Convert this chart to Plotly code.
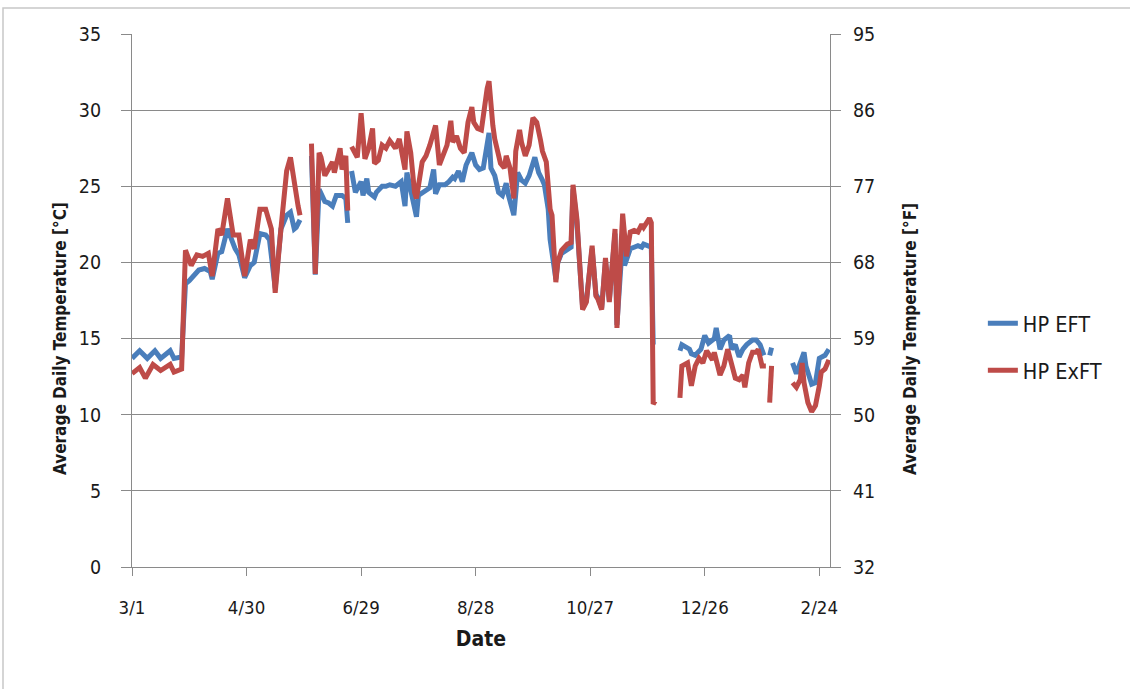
import pandas as pd
import plotly.graph_objects as go

START = "2010-03-01"

# Day offsets from 3/1 and daily average temperatures (°C); None = gap in data
eft_day = [0, 4, 8, 12, 15, 20, 22, 26, 28, 30, 35, 38, 41, 42, 45, 47, 50, 54, 56, 59,
           62, 64, 67, 70, 72, 75, 78, 81, 83, 85, 86, 88, 90,
           94, 96, 98, 101, 103, 105, 107, 110, 112, 113, 114,
           115, 117, 120, 121, 123, 124, 127, 128, 131, 133, 135, 138, 141, 143, 144, 146, 149, 150,
           154, 156, 158, 159, 161, 164, 166, 168, 169, 171, 173, 175, 178, 180, 182, 184, 187, 188,
           190, 192, 194, 196, 197, 199, 200, 202, 204, 206, 208, 211, 213, 215, 216, 218, 219,
           222, 223, 225, 228, 230, 231, 233, 235, 236, 238, 241, 243, 244, 246, 248, 250, 253,
           254, 257, 258, 261, 263, 265, 267, 268, 270, 271, 272, 273, 276,
           287, 288, 292, 293, 295, 298, 300, 302, 305, 306, 308, 310, 313, 314, 316, 318, 320,
           322, 325, 327, 329, 331, 333, 334, 335, 340,
           346, 348, 352, 353, 356, 358, 360, 363, 365]
eft_c = [13.7, 14.2, 13.7, 14.2, 13.7, 14.2, 13.7, 13.8, 18.6, 18.8, 19.5, 19.6, 19.4, 18.9, 20.6, 20.7, 22.2, 20.9, 20.5, 19.0,
         19.8, 20.0, 21.9, 21.8, 21.5, 18.3, 22.2, 23.1, 23.3, 22.2, 22.3, 22.8, None,
         27.0, 19.2, 24.8, 24.0, 23.9, 23.7, 24.4, 24.4, 24.2, 22.6, None,
         26.0, 24.6, 25.3, 24.4, 25.5, 24.6, 24.3, 24.6, 25.0, 25.0, 25.1, 25.0, 25.3, 23.7, 25.9, 24.6, 23.0, 24.4,
         24.8, 24.9, 26.1, 24.5, 25.1, 25.1, 25.3, 25.6, 25.5, 26.0, 25.3, 26.4, 27.2, 26.4, 26.1, 26.2, 28.5, 26.2,
         25.7, 24.6, 24.4, 25.2, 24.5, 23.5, 23.1, 25.9, 25.4, 25.2, 25.7, 26.9, 25.9, 25.4, 25.1, 23.5, 21.5,
         18.9, 20.0, 20.6, 20.8, 21.0, 24.8, 22.7, 18.9, 17.1, 17.5, 20.9, 17.9, 17.7, 17.0, 20.1, 17.5, 21.9,
         15.9, 21.5, 19.8, 20.9, 21.0, 21.1, 21.0, 21.2, 21.1, 21.0, 21.0, 14.6, None,
         14.2, 14.6, 14.3, 14.0, 13.9, 14.3, 15.2, 14.7, 15.0, 15.7, 14.3, 14.9, 15.2, 14.3, 14.6, 13.8, 14.3,
         14.6, 14.9, 14.9, 14.6, 13.9, None, 13.9, 14.4, None,
         13.4, 12.7, 14.1, 13.2, 12.0, 12.1, 13.7, 13.9, 14.3]

exft_day = [0, 4, 7, 11, 15, 20, 22, 26, 28, 31, 34, 37, 40, 42, 45, 47, 50, 53, 56, 59,
            62, 64, 67, 70, 73, 75, 78, 81, 83, 85, 87, 88, 90,
            94, 96, 98, 99, 101, 103, 105, 106, 108, 109, 110, 112, 113, 114,
            115, 118, 120, 122, 124, 126, 127, 129, 131, 133, 135, 138, 140, 141, 143, 144, 146, 148,
            149, 152, 154, 156, 159, 161, 163, 165, 167, 168, 170, 172, 174, 176, 178, 179, 181, 183,
            186, 187, 189, 190, 193, 195, 196, 198, 200, 201, 203, 204, 206, 208, 210, 212, 214, 215,
            217, 219, 220, 222, 223, 225, 228, 230, 231, 233, 235, 236, 238, 241, 243, 244, 246, 248,
            250, 253, 254, 257, 259, 261, 263, 265, 267, 268, 270, 271, 272, 273, 274, 276,
            287, 288, 291, 293, 295, 297, 299, 301, 304, 305, 308, 310, 312, 314, 316, 318, 320, 321,
            323, 325, 327, 328, 330, 332, 333, 334, 335, 340,
            346, 348, 350, 351, 352, 354, 356, 358, 360, 361, 363, 365]
exft_c = [12.7, 13.1, 12.4, 13.3, 12.9, 13.3, 12.8, 13.0, 20.8, 19.8, 20.5, 20.4, 20.6, 19.1, 22.2, 21.8, 24.2, 21.8, 21.8, 19.1,
          21.5, 20.9, 23.5, 23.5, 22.2, 18.0, 22.2, 26.0, 26.9, 25.0, 23.7, 23.1, None,
          27.8, 19.25, 27.2, 26.9, 25.7, 26.1, 26.6, 25.9, 26.9, 27.5, 26.1, 27.0, 23.4, None,
          27.6, 26.9, 29.8, 26.8, 27.5, 28.8, 26.5, 26.7, 27.7, 27.5, 28.0, 27.5, 28.1, 27.4, 26.1, 28.6, 27.2, 24.6,
          24.2, 26.6, 27.0, 27.7, 29.0, 26.4, 27.0, 27.7, 29.3, 27.9, 28.3, 27.5, 27.2, 29.2, 30.2, 29.2, 28.8, 28.7,
          31.4, 31.9, 29.0, 28.1, 26.5, 26.2, 27.0, 26.2, 24.2, 27.3, 28.7, 27.9, 27.0, 27.7, 29.5, 29.2, 28.0, 27.3,
          26.6, 23.5, 23.1, 18.7, 20.0, 20.8, 21.2, 21.3, 25.1, 22.9, 18.9, 16.9, 17.4, 21.1, 17.8, 17.6, 16.9, 20.3,
          17.4, 22.2, 15.7, 23.2, 20.4, 22.0, 22.1, 22.0, 22.5, 22.3, 22.7, 22.9, 22.6, 10.7, 10.9, None,
          11.1, 13.2, 13.4, 11.9, 13.2, 13.7, 13.4, 14.2, 13.6, 14.1, 12.6, 13.2, 14.3, 13.4, 12.4, 12.3, 12.6, 11.8,
          13.4, 14.1, 14.1, 14.3, 13.2, 13.2, None, 10.8, 13.2, None,
          12.1, 11.8, 12.3, 13.4, 12.1, 10.8, 10.2, 10.6, 11.9, 12.8, 13.0, 13.6]

series_names = ["HP EFT", "HP ExFT"]
series_colors = ["#4A7EBB", "#BE4B48"]
c_range = [0, 35]
f_range = [32, 95]
y_titles = ["Average Daily Temperature [°C]", "Average Daily Temperature [°F]"]
x_title = "Date"

start = pd.Timestamp(START)
eft_x = [start + pd.Timedelta(days=d) for d in eft_day]
exft_x = [start + pd.Timedelta(days=d) for d in exft_day]

FONT = "DejaVu Sans Condensed, Liberation Sans Narrow, Liberation Sans, sans-serif"
GRID = "#8a8a8a"

fig = go.Figure()
fig.add_trace(go.Scatter(x=eft_x, y=eft_c, mode="lines", name=series_names[0],
                         line=dict(color=series_colors[0], width=5), connectgaps=False,
                         legendgroup="a"))
fig.add_trace(go.Scatter(x=exft_x, y=exft_c, mode="lines", name=series_names[1],
                         line=dict(color=series_colors[1], width=5), connectgaps=False,
                         legendgroup="b"))
# carrier for the °F axis
fig.add_trace(go.Scatter(x=[start, start], y=f_range, mode="lines", yaxis="y2",
                         line=dict(width=0), showlegend=False, hoverinfo="skip"))

end = start + pd.Timedelta(days=365.6)

fig.update_layout(
    width=1130, height=689,
    margin=dict(l=132, r=300, t=34, b=122),
    paper_bgcolor="white", plot_bgcolor="white",
    font=dict(family=FONT, size=18, color="#1a1a1a"),
    showlegend=True,
    legend=dict(x=1.219, y=0.413, xanchor="left", yanchor="middle",
                font=dict(size=21.5, family=FONT, color="#1a1a1a"),
                tracegroupgap=16, bgcolor="rgba(0,0,0,0)"),
    xaxis=dict(type="date", range=[start, end], tick0=START, dtick=60 * 86400000,
               tickformat="%-m/%-d", showgrid=False, showline=True, linecolor=GRID, linewidth=1,
               ticks="outside", ticklen=8, tickcolor=GRID, ticklabelstandoff=16,
               tickfont=dict(size=18.5),
               title=dict(text="<b>" + x_title + "</b>", font=dict(size=21), standoff=14),
               zeroline=False),
    yaxis=dict(range=c_range, dtick=5, tick0=0, showgrid=True, gridcolor=GRID, gridwidth=1,
               showline=True, linecolor=GRID, linewidth=1, ticks="outside", ticklen=10,
               tickcolor=GRID, ticklabelstandoff=16, tickfont=dict(size=19.5), zeroline=False),
    yaxis2=dict(range=f_range, dtick=9, tick0=32, overlaying="y", side="right", showgrid=False,
                showline=True, linecolor=GRID, linewidth=1, ticks="outside", ticklen=10,
                tickcolor=GRID, ticklabelstandoff=8, tickfont=dict(size=19.5), zeroline=False),
    annotations=[
        dict(text="<b>" + y_titles[0] + "</b>", textangle=-90, xref="paper", yref="paper",
             x=(60 - 132) / 698, y=(567 - 339) / 533, xanchor="center", yanchor="middle",
             showarrow=False, font=dict(size=17, family=FONT, color="#1a1a1a")),
        dict(text="<b>" + y_titles[1] + "</b>", textangle=-90, xref="paper", yref="paper",
             x=(910 - 132) / 698, y=(567 - 339) / 533, xanchor="center", yanchor="middle",
             showarrow=False, font=dict(size=17, family=FONT, color="#1a1a1a")),
    ],
    shapes=[dict(type="rect", xref="paper", yref="paper",
                 x0=(3 - 132) / 698, x1=1.44, y0=-0.25, y1=(567 - 8) / 533,
                 line=dict(color="#c8c8c8", width=1.5), fillcolor="rgba(0,0,0,0)", layer="below")],
)

fig.write_html("out.html", config={"displayModeBar": False},
               post_script="document.body.style.margin='0px';")
